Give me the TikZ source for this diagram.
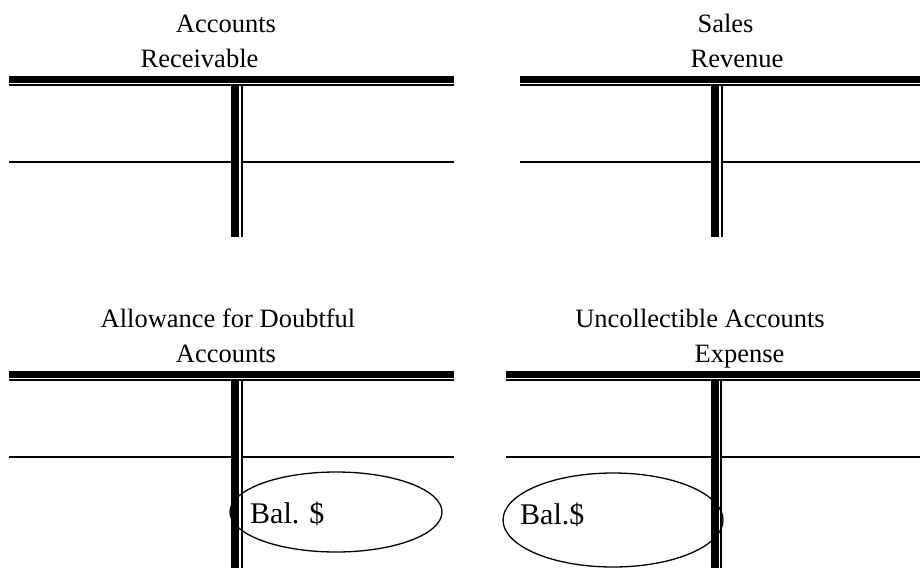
\documentclass[tikz,border=0pt]{standalone}
\usepackage{fontspec}
\setmainfont{Liberation Serif}
\usetikzlibrary{shapes.geometric}
\tikzset{
  title/.style={anchor=base, inner sep=0pt, font=\fontsize{26.5}{30}\selectfont},
  baltext/.style={anchor=base west, inner sep=0pt, font=\fontsize{30}{36}\selectfont},
  thickbar/.style={line width=7.4pt, line cap=butt},
  thinbar/.style={line width=1.7pt, line cap=butt},
  vthick/.style={line width=8pt, line cap=butt},
  vthin/.style={line width=2pt, line cap=butt},
  midline/.style={line width=2pt, line cap=butt},
  balloon/.style={draw, ellipse, line width=1.3pt, inner sep=0pt}
}
\begin{document}
\begin{tikzpicture}[x=1pt,y=-1pt]
\useasboundingbox (0,0) rectangle (920,568);
% ---------- top left: Accounts Receivable ----------
\node[title] (t1a) at (226,32) {Accounts};
\node[title] (t1b) at (199.5,67) {Receivable};
\draw[thickbar] (9,79.7) -- (454,79.7);
\draw[thinbar] (9,85.2) -- (454,85.2);
\draw[vthick] (235,84.5) -- (235,237);
\draw[vthin] (241.7,84.5) -- (241.7,237);
\draw[midline] (9,162) -- (231,162);
\draw[midline] (241,162) -- (454,162);
% ---------- top right: Sales Revenue ----------
\node[title] (t2a) at (725.5,32) {Sales};
\node[title] (t2b) at (737,67) {Revenue};
\draw[thickbar] (520,79.7) -- (920,79.7);
\draw[thinbar] (520,85.2) -- (920,85.2);
\draw[vthick] (715,84.5) -- (715,237);
\draw[vthin] (721.7,84.5) -- (721.7,237);
\draw[midline] (520,162) -- (711,162);
\draw[midline] (721,162) -- (920,162);
% ---------- bottom left: Allowance for Doubtful Accounts ----------
\node[title] (t3a) at (228,327) {Allowance for Doubtful};
\node[title] (t3b) at (226,362) {Accounts};
\draw[thickbar] (9,374.7) -- (454,374.7);
\draw[thinbar] (9,380.2) -- (454,380.2);
\draw[vthick] (235,379.5) -- (235,568);
\draw[vthin] (241.7,379.5) -- (241.7,568);
\draw[midline] (9,457) -- (231,457);
\draw[midline] (241,457) -- (454,457);
% ---------- bottom right: Uncollectible Accounts Expense ----------
\node[title] (t4a) at (700,327) {Uncollectible Accounts};
\node[title] (t4b) at (739.5,362) {Expense};
\draw[thickbar] (506,374.7) -- (920,374.7);
\draw[thinbar] (506,380.2) -- (920,380.2);
\draw[vthick] (714.5,379.5) -- (714.5,568);
\draw[vthin] (721,379.5) -- (721,568);
\draw[midline] (506,457) -- (710.5,457);
\draw[midline] (720,457) -- (920,457);
% ---------- balances ----------
\node[balloon, minimum width=212pt, minimum height=80pt] (e1) at (336,512) {};
\node[baltext] (b1) at (250,523) {Bal. \$};
\node[balloon, minimum width=220pt, minimum height=94pt] (e2) at (613,520) {};
\node[baltext] (b2) at (520,524) {Bal.\$};
\end{tikzpicture}
\end{document}
